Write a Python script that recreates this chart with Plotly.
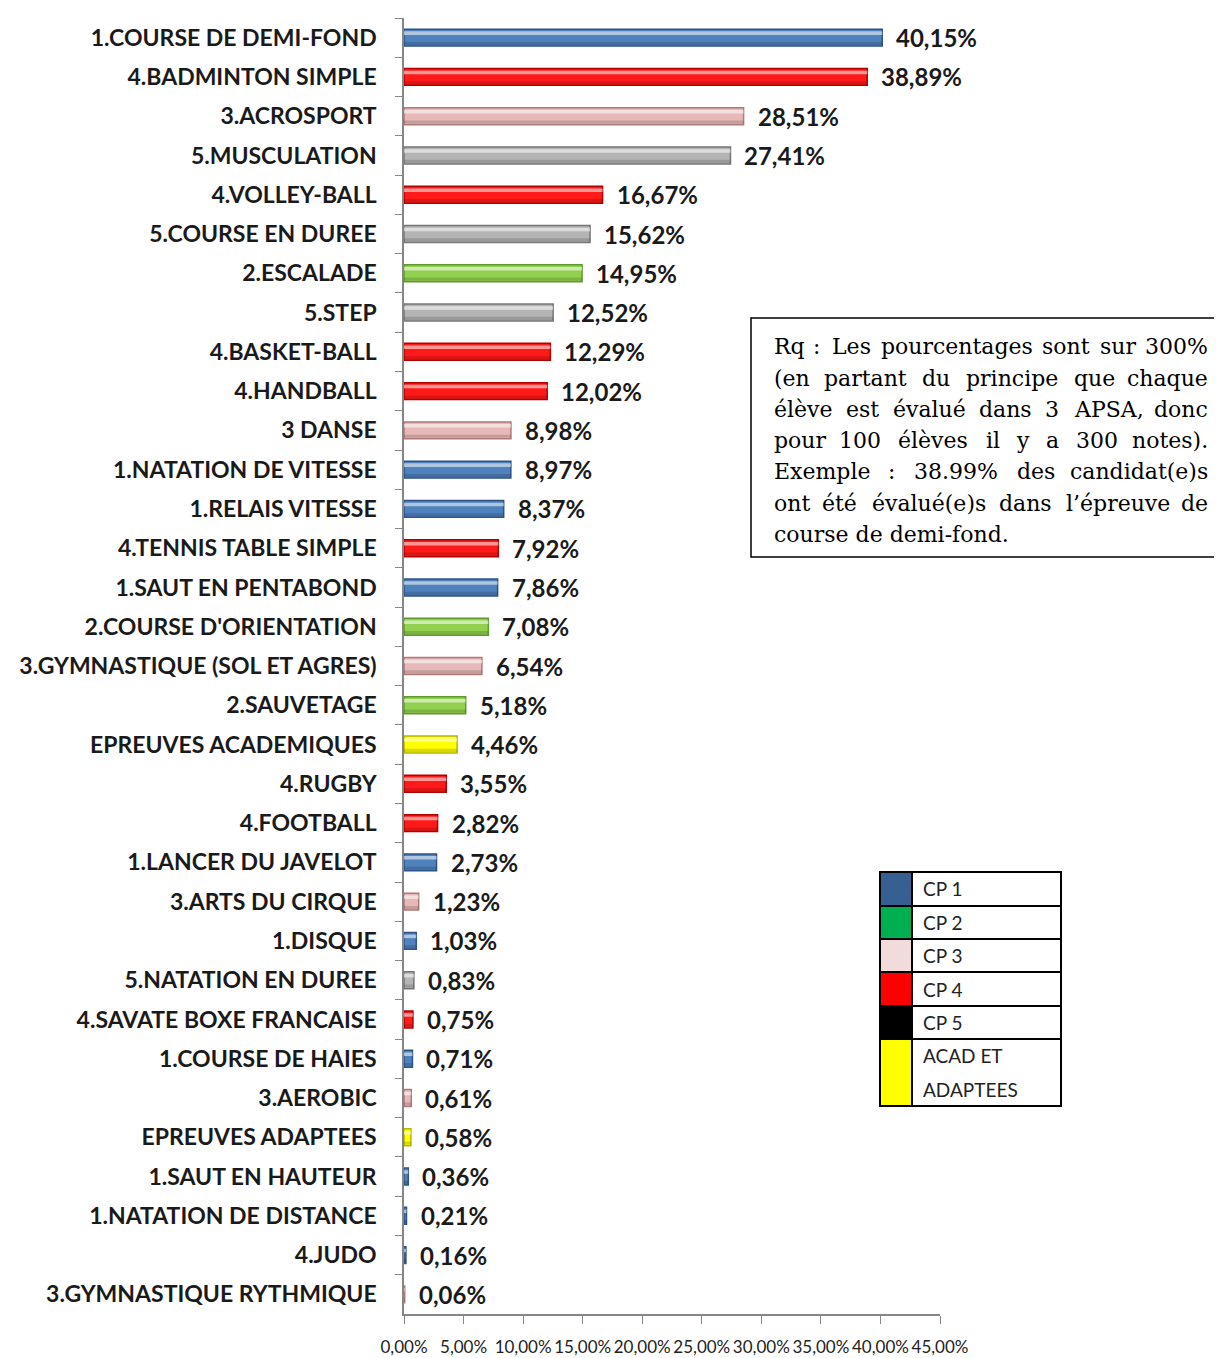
import plotly.graph_objects as go

# categories top to bottom
activites = [
    "1.COURSE DE DEMI-FOND", "4.BADMINTON SIMPLE", "3.ACROSPORT", "5.MUSCULATION",
    "4.VOLLEY-BALL", "5.COURSE EN DUREE", "2.ESCALADE", "5.STEP", "4.BASKET-BALL",
    "4.HANDBALL", "3 DANSE", "1.NATATION DE VITESSE", "1.RELAIS VITESSE",
    "4.TENNIS TABLE SIMPLE", "1.SAUT EN PENTABOND", "2.COURSE D'ORIENTATION",
    "3.GYMNASTIQUE (SOL ET AGRES)", "2.SAUVETAGE", "EPREUVES ACADEMIQUES", "4.RUGBY",
    "4.FOOTBALL", "1.LANCER DU JAVELOT", "3.ARTS DU CIRQUE", "1.DISQUE",
    "5.NATATION EN DUREE", "4.SAVATE BOXE FRANCAISE", "1.COURSE DE HAIES", "3.AEROBIC",
    "EPREUVES ADAPTEES", "1.SAUT EN HAUTEUR", "1.NATATION DE DISTANCE", "4.JUDO",
    "3.GYMNASTIQUE RYTHMIQUE",
]
pourcentages = [
    40.15, 38.89, 28.51, 27.41, 16.67, 15.62, 14.95, 12.52, 12.29, 12.02, 8.98, 8.97,
    8.37, 7.92, 7.86, 7.08, 6.54, 5.18, 4.46, 3.55, 2.82, 2.73, 1.23, 1.03, 0.83, 0.75,
    0.71, 0.61, 0.58, 0.36, 0.21, 0.16, 0.06,
]
groupes = [
    "CP1", "CP4", "CP3", "CP5", "CP4", "CP5", "CP2", "CP5", "CP4", "CP4", "CP3", "CP1",
    "CP1", "CP4", "CP1", "CP2", "CP3", "CP2", "ACAD", "CP4", "CP4", "CP1", "CP3", "CP1",
    "CP5", "CP4", "CP1", "CP3", "ACAD", "CP1", "CP1", "CP1", "CP3",
]
x_ticks = [0, 5, 10, 15, 20, 25, 30, 35, 40, 45]

legende_labels = ["CP 1", "CP 2", "CP 3", "CP 4", "CP 5", "ACAD ET|ADAPTEES"]
legende_couleurs = ["#376092", "#00b050", "#f2dcdb", "#ff0000", "#000000", "#ffff00"]

note_lignes = [
    "Rq : Les pourcentages sont sur 300%",
    "(en partant du principe que chaque",
    "élève est évalué dans 3 APSA, donc",
    "pour 100 élèves il y a 300 notes).",
    "Exemple : 38.99% des candidat(e)s",
    "ont été évalué(e)s dans l’épreuve de",
    "course de demi-fond.",
]

# bar fill / edge per group
fill = {"CP1": "#4f81bd", "CP2": "#92d050", "CP3": "#e6b9b8", "CP4": "#ff1a1a",
        "CP5": "#b4b4b4", "ACAD": "#ffff00"}
edge = {"CP1": "#2c5487", "CP2": "#5f9a2e", "CP3": "#b07a78", "CP4": "#b30000",
        "CP5": "#767676", "ACAD": "#b8b800"}


def pct(v):
    return f"{v:.2f}%".replace(".", ",")


# plot area in page pixels; the page body adds an 8px margin
OFF = 8
W, H = 1222 - OFF, 1358 - OFF
L, R, T, B = 404, 940, 18, 1314


def px(x):
    return (x - L) / (R - L)


def py(y):
    return (B - y) / (B - T)


fig = go.Figure()

fig.add_trace(go.Bar(
    x=pourcentages, y=activites, orientation="h",
    width=0.43,
    marker=dict(color=[fill[g] for g in groupes],
                line=dict(color=[edge[g] for g in groupes], width=1.5)),
    hoverinfo="x+y", showlegend=False,
))
# light strip to fake the bevel
fig.add_trace(go.Bar(
    x=pourcentages, y=activites, orientation="h",
    width=0.09, offset=-0.16,
    marker=dict(color="rgba(255,255,255,0.55)", line=dict(width=0)),
    hoverinfo="skip", showlegend=False,
))
# darker lower strip
fig.add_trace(go.Bar(
    x=pourcentages, y=activites, orientation="h",
    width=0.08, offset=0.11,
    marker=dict(color="rgba(0,0,0,0.15)", line=dict(width=0)),
    hoverinfo="skip", showlegend=False,
))

annotations = []
for a, v in zip(activites, pourcentages):
    annotations.append(dict(
        x=v, y=a, xref="x", yref="y", xanchor="left", yanchor="middle",
        xshift=12, showarrow=False, text=pct(v),
        font=dict(family="Lato", size=24, color="#1a1a1a", weight="bold"),
    ))

shapes = []

# note box
shapes.append(dict(type="rect", xref="paper", yref="paper",
                   x0=px(751), x1=px(1221), y0=py(557), y1=py(318),
                   line=dict(color="#000000", width=1.5), fillcolor="white", layer="above"))

cw = {"i": .32, "l": .32, "j": .32, "t": .40, "f": .37, "r": .48, "m": .95, "w": .86,
      " ": .32, ".": .32, ",": .32, ":": .34, "(": .39, ")": .39, "’": .32, "%": .95,
      "-": .34, "s": .51, "c": .56, "e": .59, "a": .60, "z": .53, "y": .57}


def largeur(w):
    tot = 0
    for ch in w:
        if ch.isdigit():
            tot += .64
        elif ch.isupper():
            tot += .72
        else:
            tot += cw.get(ch, .60)
    return tot


fs = 22
x_left, x_right = 772, 1210
for i, ligne in enumerate(note_lignes):
    yc = py(347 + i * 31.2)
    fnt = dict(family="DejaVu Serif", size=fs, color="#000000")
    if i == len(note_lignes) - 1:
        annotations.append(dict(x=px(x_left), y=yc, xref="paper", yref="paper",
                                xanchor="left", yanchor="middle", showarrow=False,
                                text=ligne, font=fnt))
        continue
    mots = ligne.split(" ")
    ws = [largeur(m) * fs for m in mots]
    gap = (x_right - x_left - sum(ws)) / (len(mots) - 1)
    pos = x_left
    for j, (m, w) in enumerate(zip(mots, ws)):
        if j == 0:
            ax, xa = pos, "left"
        elif j == len(mots) - 1:
            ax, xa = x_right, "right"
        else:
            ax, xa = pos + w / 2, "center"
        annotations.append(dict(x=px(ax), y=yc, xref="paper", yref="paper",
                                xanchor=xa, yanchor="middle", showarrow=False,
                                text=m, font=fnt))
        pos += w + gap

# legend table
lx0, lsw, lx1 = 880, 912, 1061
row_tops = [872, 906, 939, 972, 1006, 1039]
row_bots = [906, 939, 972, 1006, 1039, 1106]
for lab, col, t0, b0 in zip(legende_labels, legende_couleurs, row_tops, row_bots):
    shapes.append(dict(type="rect", xref="paper", yref="paper",
                       x0=px(lx0), x1=px(lsw), y0=py(b0), y1=py(t0),
                       fillcolor=col, line=dict(color="#000000", width=2)))
    shapes.append(dict(type="rect", xref="paper", yref="paper",
                       x0=px(lsw), x1=px(lx1), y0=py(b0), y1=py(t0),
                       fillcolor="white", line=dict(color="#000000", width=2)))
    parts = lab.split("|")
    step = (b0 - t0) / len(parts)
    for k, part in enumerate(parts):
        annotations.append(dict(x=px(921), y=py(t0 + step * (k + 0.5)),
                                xref="paper", yref="paper",
                                xanchor="left", yanchor="middle", align="left",
                                showarrow=False, text=part,
                                font=dict(family="Lato", size=19, color="#222222")))

fig.update_layout(
    width=W, height=H,
    margin=dict(l=L - OFF, r=W - (R - OFF), t=T - OFF, b=H - (B - OFF), autoexpand=False),
    plot_bgcolor="white", paper_bgcolor="white",
    barmode="overlay",
    showlegend=False,
    xaxis=dict(
        range=[0, 45], tickvals=x_ticks, ticktext=[pct(v) for v in x_ticks],
        tickangle=0, showgrid=False, zeroline=False, automargin=False,
        showline=True, linecolor="#868686", linewidth=1.5,
        ticks="outside", ticklen=8, tickcolor="#868686",
        ticklabelstandoff=9,
        tickfont=dict(family="Lato", size=17, color="#222222"),
    ),
    yaxis=dict(
        autorange="reversed", showgrid=False, zeroline=False, automargin=False,
        showline=True, linecolor="#868686", linewidth=1.5,
        ticks="outside", ticklen=7, tickcolor="#868686", tickson="boundaries",
        ticklabelstandoff=21,
        tickfont=dict(family="Lato", size=23, color="#1a1a1a", weight="bold"),
    ),
    shapes=shapes,
    annotations=annotations,
)

fig.write_html("out.html")
